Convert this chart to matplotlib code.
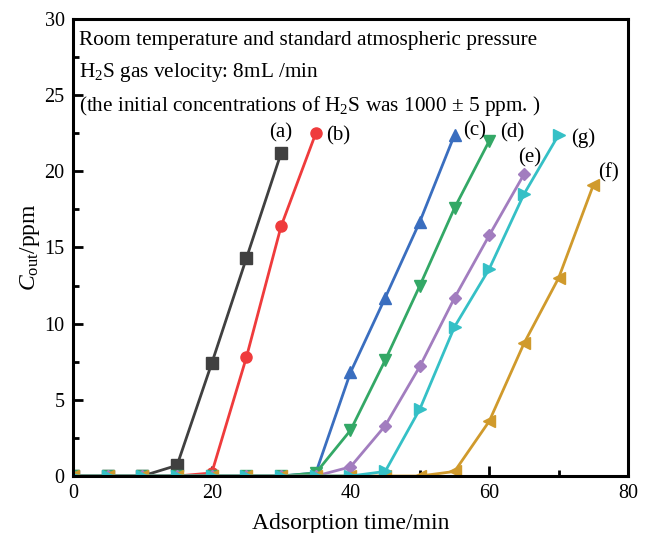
import matplotlib
matplotlib.use('Agg')
from matplotlib import pyplot as plt
from matplotlib.ticker import MultipleLocator

plt.rcParams['font.family'] = ['Liberation Serif', 'DejaVu Serif']
plt.rcParams['mathtext.fontset'] = 'custom'
plt.rcParams['mathtext.rm'] = 'Liberation Serif'
plt.rcParams['mathtext.it'] = 'Liberation Serif:italic'

# breakthrough curves, outlet H2S vs time
t_a = [0, 5, 10, 15, 20, 25, 30]
c_a = [0, 0, 0, 0.7, 7.4, 14.3, 21.2]
t_b = [0, 5, 10, 15, 20, 25, 30, 35]
c_b = [0, 0, 0, 0, 0.2, 7.8, 16.4, 22.5]
t_c = [0, 5, 10, 15, 20, 25, 30, 35, 40, 45, 50, 55]
c_c = [0, 0, 0, 0, 0, 0, 0, 0.2, 6.8, 11.7, 16.7, 22.4]
t_d = [0, 5, 10, 15, 20, 25, 30, 35, 40, 45, 50, 55, 60]
c_d = [0, 0, 0, 0, 0, 0, 0, 0.2, 3.0, 7.6, 12.5, 17.6, 22.0]
t_e = [0, 5, 10, 15, 20, 25, 30, 35, 40, 45, 50, 55, 60, 65]
c_e = [0, 0, 0, 0, 0, 0, 0, 0, 0.6, 3.3, 7.2, 11.7, 15.8, 19.8]
t_f = [0, 5, 10, 15, 20, 25, 30, 35, 40, 45, 50, 55, 60, 65, 70, 75]
c_f = [0, 0, 0, 0, 0, 0, 0, 0, 0, 0, 0, 0.3, 3.6, 8.7, 13.0, 19.1]
t_g = [0, 5, 10, 15, 20, 25, 30, 35, 40, 45, 50, 55, 60, 65, 70]
c_g = [0, 0, 0, 0, 0, 0, 0, 0, 0, 0.3, 4.4, 9.8, 13.6, 18.5, 22.4]

series = [
    (t_a, c_a, '#404040', 's', '(a)', (0.0, 1.3)),
    (t_b, c_b, '#ef3b3c', 'o', '(b)', (3.2, -0.2)),
    (t_c, c_c, '#3a6ebf', '^', '(c)', (2.9, 0.25)),
    (t_d, c_d, '#33a866', 'v', '(d)', (3.3, 0.5)),
    (t_e, c_e, '#a27dbf', 'D', '(e)', (0.85, 1.1)),
    (t_f, c_f, '#d09a2c', '<', '(f)', (2.2, 0.8)),
    (t_g, c_g, '#35c0c6', '>', '(g)', (3.5, -0.2)),
]

fig = plt.figure(figsize=(6.51, 5.33), dpi=100)
ax = fig.add_axes([0.1121, 0.1069, 0.8526, 0.8575])

for t, c, col, mk, lab, off in series:
    ms = 6.5 if mk == 'D' else 8
    ax.plot(t, c, color=col, marker=mk, markersize=ms, linewidth=2.0)
    ax.text(t[-1] + off[0], c[-1] + off[1], lab, fontsize=15,
            ha='center', va='center')

ax.set_xlim(0, 80)
ax.set_ylim(0, 30)
ax.xaxis.set_major_locator(MultipleLocator(20))
ax.xaxis.set_minor_locator(MultipleLocator(10))
ax.yaxis.set_major_locator(MultipleLocator(5))
ax.yaxis.set_minor_locator(MultipleLocator(2.5))
ax.tick_params(which='both', direction='in', width=2, labelsize=14.5)
ax.tick_params(which='major', length=7, pad=6)
ax.tick_params(which='minor', length=4)
for s in ax.spines.values():
    s.set_linewidth(2.2)

ax.set_xlabel('Adsorption time/min', fontsize=17, labelpad=7)
ax.set_ylabel(r'$C_{\mathrm{out}}$/ppm', fontsize=17, labelpad=2)

ax.text(0.01, 0.952, 'Room temperature and standard atmospheric pressure',
        transform=ax.transAxes, fontsize=15.3, va='center')
ax.text(0.01, 0.882, r'H$_2$S gas velocity: 8mL /min',
        transform=ax.transAxes, fontsize=15.3, va='center')
ax.text(0.01, 0.81, r'(the initial concentrations of H$_2$S was 1000 $\pm$ 5 ppm. )',
        transform=ax.transAxes, fontsize=15.3, va='center')

fig.savefig('out.png', dpi=100)
